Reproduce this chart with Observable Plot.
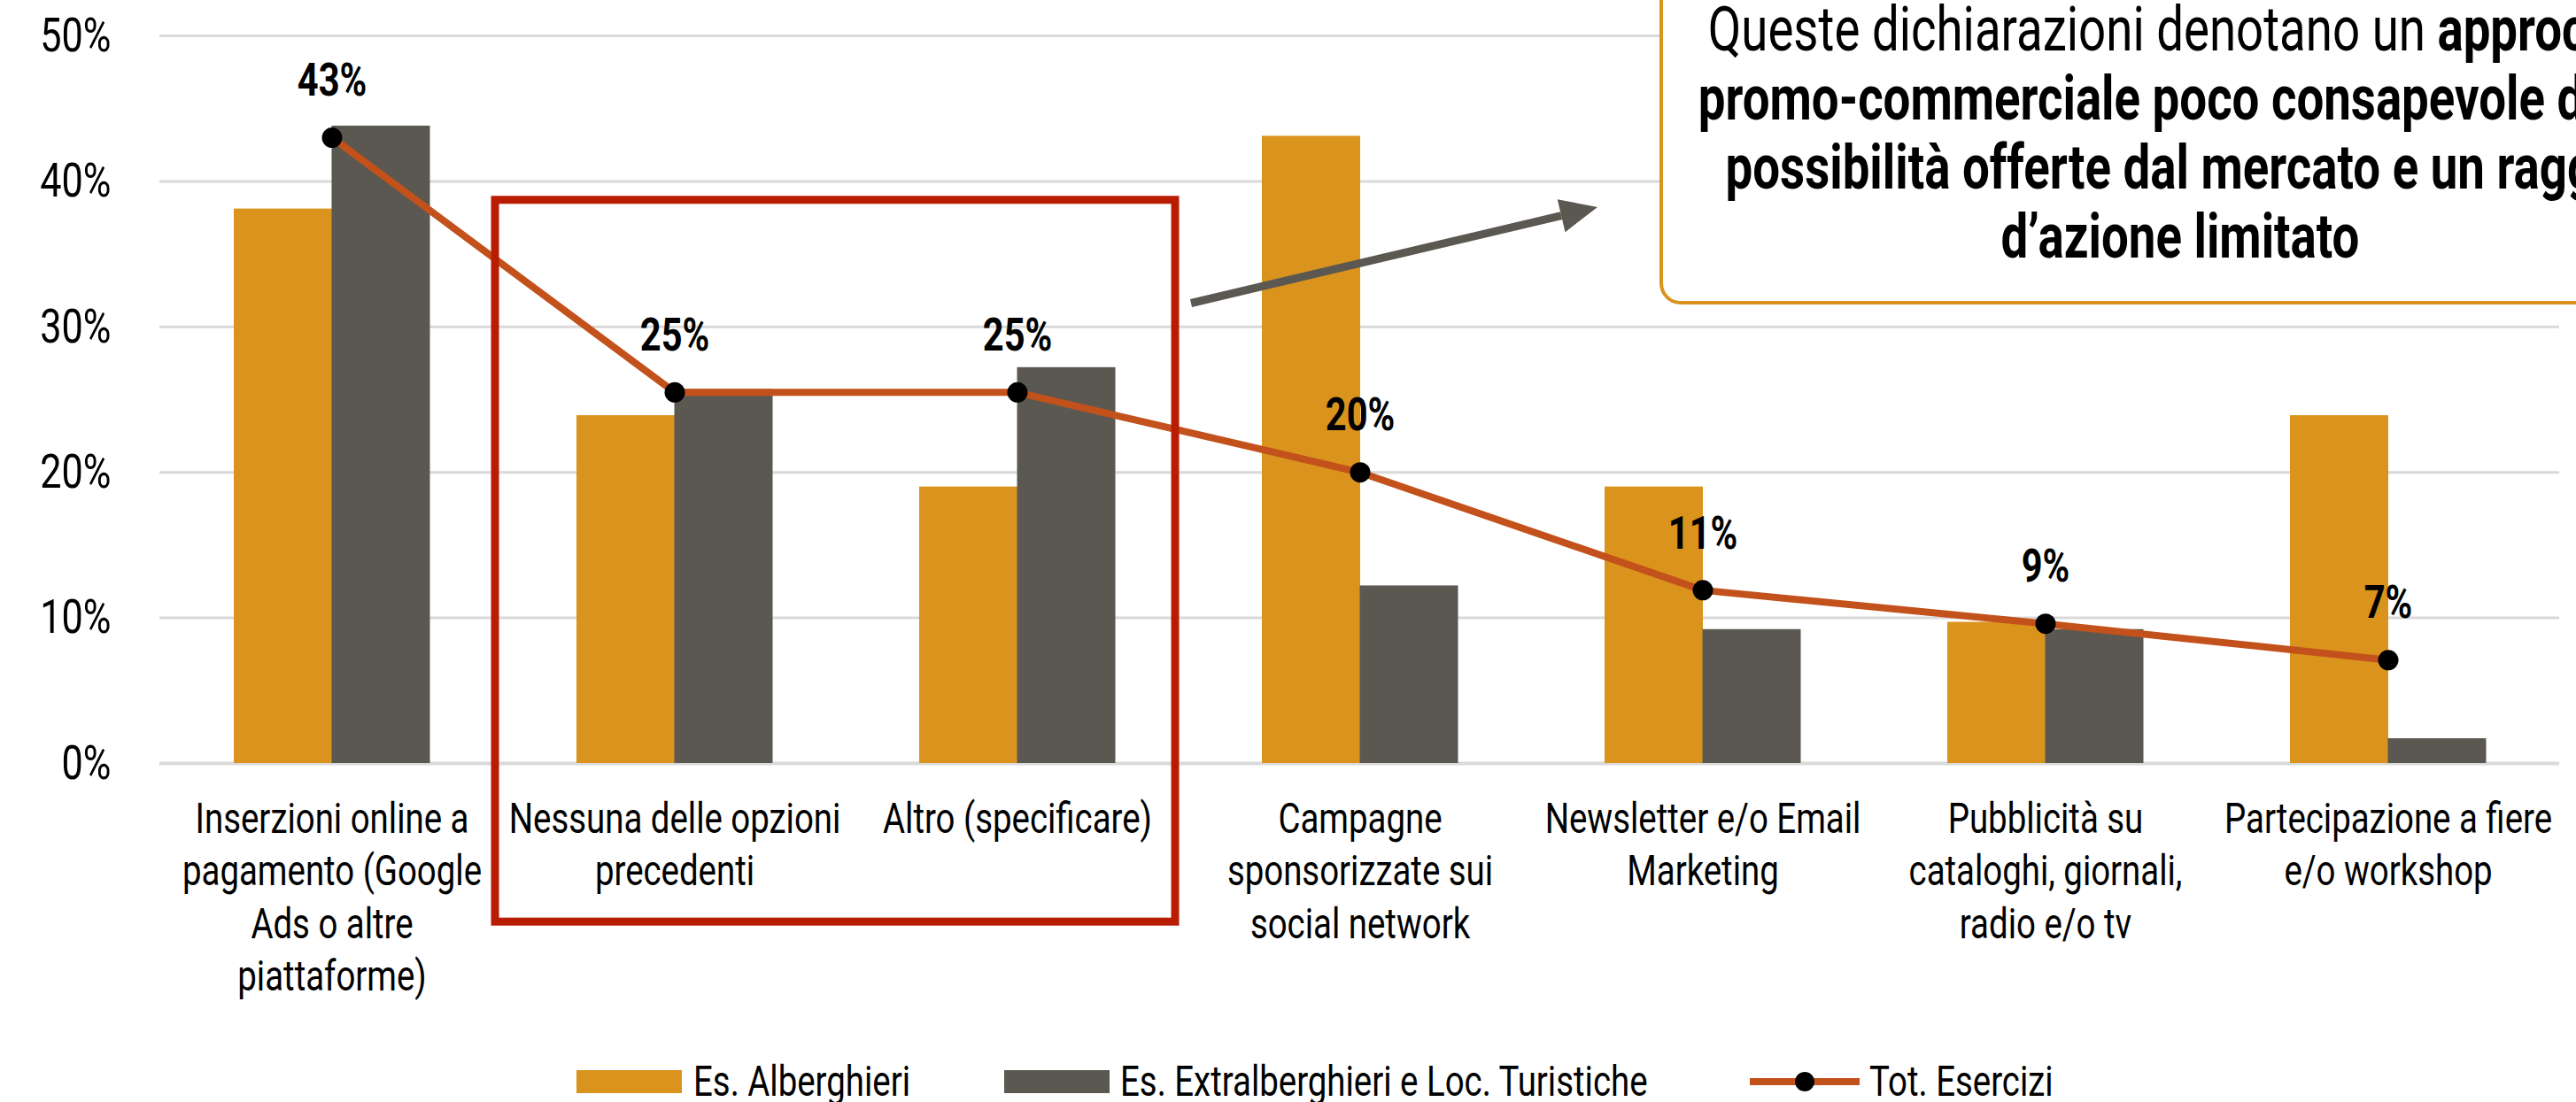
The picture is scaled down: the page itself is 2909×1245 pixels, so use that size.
<!DOCTYPE html>
<html>
<head>
<meta charset="utf-8">
<script src="https://cdn.jsdelivr.net/npm/d3@7"></script>
<script src="https://cdn.jsdelivr.net/npm/@observablehq/plot@0.6"></script>
<style>
  html, body { margin: 0; padding: 0; background: #fff; overflow: hidden; }
  #wrap { position: relative; width: 2909px; height: 1245px; overflow: hidden; background: #fff;
          font-family: Roboto, 'Liberation Sans', sans-serif; color: #000; }
  #callout {
    position: absolute; left: 1874px; top: -60px; width: 1176px; height: 404px;
    border: 4px solid #DA931D; border-radius: 24px; box-sizing: border-box; background: #fff;
  }
  #callout .txt {
    position: absolute; left: -1000px; right: -1000px; top: 50px; text-align: center;
    font-size: 70px; line-height: 78px; white-space: nowrap;
    transform: scaleX(0.78); transform-origin: 50% 0;
  }
  .lg { position: absolute; }
  .lgtxt { position: absolute; font-size: 48px; line-height: 50px; white-space: nowrap;
           transform: scaleX(0.8); transform-origin: 0 50%; }
</style>
</head>
<body>
<div id="wrap"></div>
<script>
// ---- data ----
const categories = [
  "Inserzioni online a\npagamento (Google\nAds o altre\npiattaforme)",
  "Nessuna delle opzioni\nprecedenti",
  "Altro (specificare)",
  "Campagne\nsponsorizzate sui\nsocial network",
  "Newsletter e/o Email\nMarketing",
  "Pubblicità su\ncataloghi, giornali,\nradio e/o tv",
  "Partecipazione a fiere\ne/o workshop"
];
const alberghieri     = [38.1, 23.9, 19.0, 43.1, 19.0, 9.7, 23.9];
const extralberghieri = [43.8, 25.7, 27.2, 12.2, 9.2, 9.2, 1.7];
const totEsercizi     = [43.0, 25.5, 25.5, 20.0, 11.9, 9.6, 7.1];
const yTicks = [0, 10, 20, 30, 40, 50];
const seriesNames = ["Es. Alberghieri", "Es. Extralberghieri e Loc. Turistiche", "Tot. Esercizi"];
const calloutLines = [
  ["Queste dichiarazioni denotano un ", "approccio"],
  ["", "promo-commerciale poco consapevole delle"],
  ["", "possibilità offerte dal mercato e un raggio"],
  ["", "d’azione limitato"]
];

const colAlb = "#DA931D", colExtra = "#5B5851", colTot = "#C3511B", colBox = "#B81C02";
const FONT = "Roboto, 'Liberation Sans', sans-serif";
const SQUEEZE = 0.8;

const albData = categories.map((c, i) => ({category: c, value: alberghieri[i]}));
const extraData = categories.map((c, i) => ({category: c, value: extralberghieri[i]}));
const totData = categories.map((c, i) => ({category: c, value: totEsercizi[i]}));

const chart = Plot.plot({
  width: 2909,
  height: 1170,
  marginLeft: 180,
  marginRight: 19,
  marginTop: 40,
  marginBottom: 308,
  x: {domain: categories, padding: 0, axis: null},
  y: {domain: [0, 50], axis: null},
  style: {fontFamily: FONT, background: "white", overflow: "visible", color: "#000"},
  marks: [
    Plot.gridY(yTicks.filter(t => t > 0), {stroke: "#d9d9d9", strokeOpacity: 1, strokeWidth: 3}),
    Plot.ruleY([0], {stroke: "#d9d9d9", strokeWidth: 4}),
    Plot.axisY({ticks: yTicks, tickSize: 0, tickPadding: 55, tickFormat: d => d + "%", fontSize: 54, label: null}),
    Plot.axisX({tickSize: 0, tickPadding: 36, fontSize: 48, lineHeight: 1.24, label: null}),
    Plot.barY(albData, {x: "category", y: "value", fill: colAlb, insetLeft: 83, insetRight: 193}),
    Plot.barY(extraData, {x: "category", y: "value", fill: colExtra, insetLeft: 193.5, insetRight: 82.5}),
    Plot.line(totData, {x: "category", y: "value", stroke: colTot, strokeWidth: 8}),
    Plot.dot(totData, {x: "category", y: "value", r: 11.5, fill: "#000", stroke: "none"}),
    Plot.text(totData, {x: "category", y: "value", text: d => Math.floor(d.value) + "%", dy: -64, fontSize: 52, fontWeight: "bold"})
  ]
});

// condense every text of the chart horizontally around its own anchor
chart.querySelectorAll("text").forEach(t => {
  const tr = t.getAttribute("transform") || "";
  const x = +t.getAttribute("x") || 0;
  t.setAttribute("transform", `${tr} translate(${x},0) scale(${SQUEEZE},1) translate(${-x},0)`);
});

const wrap = document.getElementById("wrap");
wrap.appendChild(chart);

// annotations positioned through the chart's own scales
const xs = chart.scale("x"), ys = chart.scale("y");
const bw = xs.bandwidth;
const svg = d3.select(chart);
const rx1 = xs.apply(categories[1]) - 9;
const rx2 = xs.apply(categories[2]) + bw - 15;
const ry1 = ys.apply(38.7);
const ry2 = ys.apply(-10.9);
svg.append("rect")
  .attr("x", rx1).attr("y", ry1)
  .attr("width", rx2 - rx1).attr("height", ry2 - ry1)
  .attr("fill", "none").attr("stroke", colBox).attr("stroke-width", 9);

// arrow
const ax1 = rx2 + 18, ay1 = ys.apply(31.6);
const ax2 = xs.apply(categories[4]) + 75, ay2 = ys.apply(38.2);
const ang = Math.atan2(ay2 - ay1, ax2 - ax1);
const hl = 42, hw = 19;
const bx = ax2 - hl * Math.cos(ang), by = ay2 - hl * Math.sin(ang);
svg.append("line").attr("x1", ax1).attr("y1", ay1).attr("x2", bx).attr("y2", by)
  .attr("stroke", colExtra).attr("stroke-width", 9);
svg.append("path")
  .attr("d", `M${ax2},${ay2}L${bx - hw * Math.sin(ang)},${by + hw * Math.cos(ang)}L${bx + hw * Math.sin(ang)},${by - hw * Math.cos(ang)}Z`)
  .attr("fill", colExtra);

// callout
const callout = document.createElement("div");
callout.id = "callout";
const txt = document.createElement("div");
txt.className = "txt";
calloutLines.forEach(([reg, bold]) => {
  const line = document.createElement("div");
  if (reg) { const s = document.createElement("span"); s.textContent = reg; line.appendChild(s); }
  const b = document.createElement("b"); b.textContent = bold; line.appendChild(b);
  txt.appendChild(line);
});
callout.appendChild(txt);
wrap.appendChild(callout);

// legend (below the svg)
const legendTop = 1197;
const addBox = (left, color) => {
  const d = document.createElement("div"); d.className = "lg";
  Object.assign(d.style, {left: left + "px", top: (legendTop + 12) + "px", width: "119px", height: "26px", background: color});
  wrap.appendChild(d);
};
const addLabel = (left, label) => {
  const d = document.createElement("div"); d.className = "lgtxt";
  Object.assign(d.style, {left: left + "px", top: legendTop + "px"});
  d.textContent = label; wrap.appendChild(d);
};
addBox(651, colAlb); addLabel(783, seriesNames[0]);
addBox(1134, colExtra); addLabel(1265, seriesNames[1]);
const ls = d3.create("svg").attr("width", 124).attr("height", 30)
  .style("position", "absolute").style("left", "1976px").style("top", (legendTop + 10) + "px");
ls.append("line").attr("x1", 0).attr("x2", 124).attr("y1", 15).attr("y2", 15).attr("stroke", colTot).attr("stroke-width", 8);
ls.append("circle").attr("cx", 62).attr("cy", 15).attr("r", 11).attr("fill", "#000");
wrap.appendChild(ls.node());
addLabel(2111, seriesNames[2]);
</script>
</body>
</html>
